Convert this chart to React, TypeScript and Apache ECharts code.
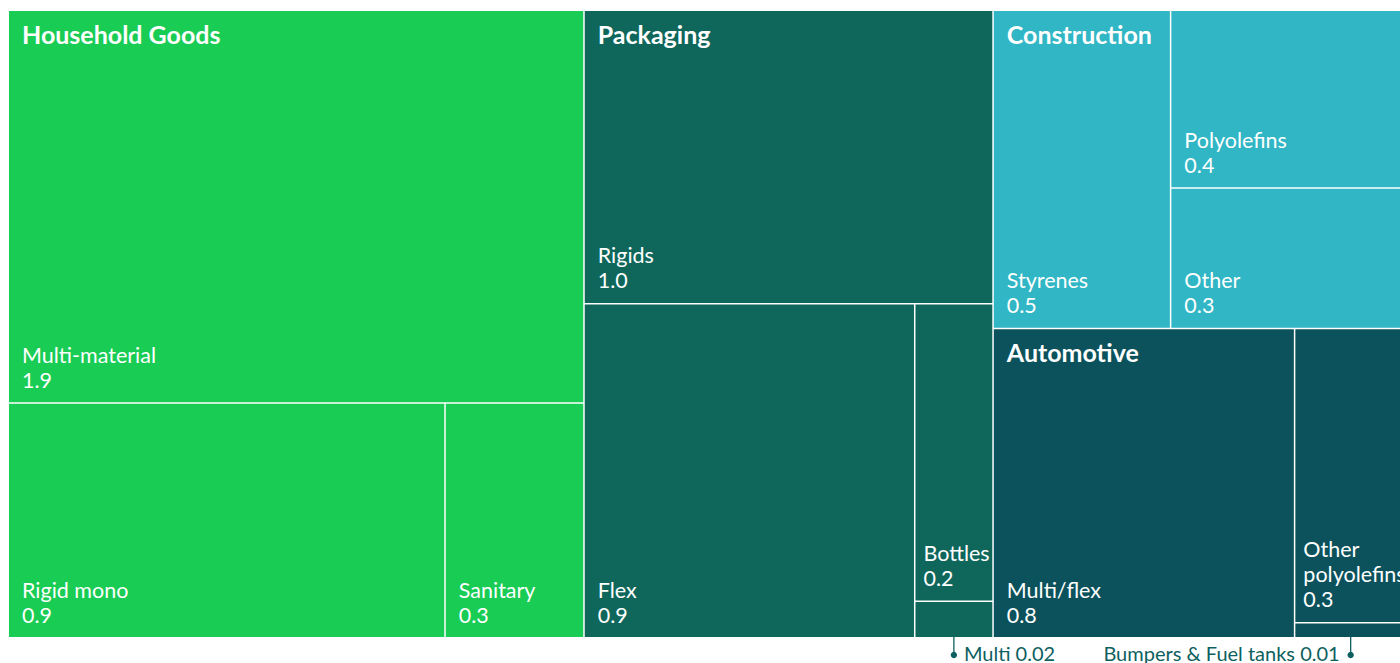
import React, { useEffect, useRef } from "react";
import * as echarts from "echarts";

// ---- data ----
const groupNames = ["Household Goods", "Packaging", "Construction", "Automotive"];
const groupColors = ["#18CC54", "#0F675C", "#30B6C4", "#0C525C"];

const householdNames = ["Multi-material", "Rigid mono", "Sanitary"];
const householdValues = [1.94, 0.88, 0.28];

const packagingNames = ["Rigids", "Flex", "Bottles", "Multi"];
const packagingValues = [1.03, 0.948, 0.2, 0.0245];

const constructionNames = ["Styrenes", "Polyolefins", "Other"];
const constructionValues = [0.485, 0.36, 0.285];

const automotiveNames = ["Multi/flex", "Other polyolefins", "Bumpers & Fuel tanks"];
const automotiveValues = [0.8, 0.283, 0.0145];

// leaves labelled outside the map, and on which side of the dot their text sits
const annotatedNames = ["Multi", "Bumpers & Fuel tanks"];
const annotatedSides = ["right", "left"];
// narrow cells get a smaller inner padding; some names wrap onto two lines
const narrowNames = ["Bottles", "Other polyolefins"];
const wrappedNames = ["Other polyolefins"];

const FONT = "Lato, 'Noto Sans', sans-serif";
const ANN_COLOR = "#0E5F60";

const groups = [
  { names: householdNames, values: householdValues },
  { names: packagingNames, values: packagingValues },
  { names: constructionNames, values: constructionValues },
  { names: automotiveNames, values: automotiveValues },
];

const fmt = (v: number) => (v < 0.1 ? v.toFixed(2) : v.toFixed(1));

function valueOf(name: string): number {
  for (const g of groups) {
    const i = g.names.indexOf(name);
    if (i >= 0) return g.values[i];
  }
  return 0;
}

function leafText(p: any) {
  const name = wrappedNames.includes(p.name) ? p.name.replace(" ", "\n") : p.name;
  return `${name}\n${fmt(p.value)}`;
}

function buildData(overlay: boolean) {
  return groups.map((g, gi) => ({
    name: groupNames[gi],
    itemStyle: { color: overlay ? "transparent" : groupColors[gi] },
    children: g.names.map((n, i) => {
      const narrow = narrowNames.includes(n);
      const hidden = annotatedNames.includes(n);
      let label: any;
      if (overlay) {
        label =
          i === 0
            ? {
                show: true,
                position: "insideTopLeft",
                formatter: groupNames[gi],
                fontWeight: "bold",
                fontSize: 25,
                lineHeight: 28,
                padding: [9, 0, 0, 13],
              }
            : { show: false };
      } else {
        label = hidden
          ? { show: false }
          : {
              show: true,
              padding: narrow ? [0, 0, 10, 8] : [0, 0, 10, 13],
            };
      }
      return {
        name: n,
        value: g.values[i],
        itemStyle: { color: overlay ? "transparent" : groupColors[gi] },
        label,
      };
    }),
  }));
}

function seriesBase(overlay: boolean) {
  const border = overlay ? "transparent" : "#ffffff";
  return {
    type: "treemap",
    left: 9,
    top: 11,
    width: 1397,
    height: 626,
    roam: false,
    nodeClick: false,
    silent: overlay,
    breadcrumb: { show: false },
    squareRatio: 0.5,
    sort: "desc",
    visibleMin: 0,
    animation: false,
    upperLabel: { show: false },
    emphasis: { disabled: true },
    label: {
      show: true,
      position: overlay ? "insideTopLeft" : "insideBottomLeft",
      distance: 0,
      color: "#ffffff",
      fontFamily: FONT,
      fontSize: 21.5,
      lineHeight: 25,
      overflow: "none",
      formatter: leafText,
    },
    itemStyle: { borderWidth: 0, gapWidth: 1.5, borderColor: border },
    levels: [
      { itemStyle: { borderWidth: 0, gapWidth: 1.5, borderColor: border } },
      { itemStyle: { borderWidth: 0, gapWidth: 1.5, borderColor: border } },
      { itemStyle: { borderWidth: 0, gapWidth: 0, borderColor: border } },
    ],
    data: buildData(overlay),
  };
}

// absolute rectangles of leaves
function leafRects(chart: any, names: string[]) {
  const series = chart.getModel().getSeriesByIndex(0);
  const tree = series.getData().tree;
  const li = series.layoutInfo || { x: 0, y: 0 };
  const out: Record<string, { x: number; y: number; w: number; h: number }> = {};
  tree.root.eachNode((node: any) => {
    if (!names.includes(node.name) || (node.children && node.children.length)) return;
    let x = 0;
    let y = 0;
    let n = node;
    while (n) {
      const l = n.getLayout();
      if (l) {
        x += l.x || 0;
        y += l.y || 0;
      }
      n = n.parentNode;
    }
    const l = node.getLayout();
    out[node.name] = { x: x + (li.x || 0), y: y + (li.y || 0), w: l.width, h: l.height };
  });
  return out;
}

function buildAnnotations(rects: Record<string, { x: number; y: number; w: number; h: number }>) {
  const els: any[] = [];
  annotatedNames.forEach((name, i) => {
    const r = rects[name];
    if (!r) return;
    const cx = r.x + r.w / 2;
    const by = r.y + r.h;
    const dotY = by + 18;
    const right = annotatedSides[i] === "right";
    els.push({
      type: "line",
      silent: true,
      shape: { x1: cx, y1: by, x2: cx, y2: dotY },
      style: { stroke: ANN_COLOR, lineWidth: 1.3 },
    });
    els.push({
      type: "circle",
      silent: true,
      shape: { cx, cy: dotY, r: 3.2 },
      style: { fill: ANN_COLOR },
    });
    els.push({
      type: "text",
      silent: true,
      x: right ? cx + 10 : cx - 11,
      y: dotY - 2.5,
      style: {
        text: `${name} ${fmt(valueOf(name))}`,
        fill: ANN_COLOR,
        fontFamily: FONT,
        fontSize: 20,
        lineHeight: 15,
        align: right ? "left" : "right",
        verticalAlign: "middle",
      },
    });
  });
  return els;
}

export default function App() {
  const ref = useRef<HTMLDivElement>(null);
  useEffect(() => {
    if (!ref.current) return;
    const chart = echarts.init(ref.current, null, { renderer: "svg" });
    chart.setOption({
      animation: false,
      backgroundColor: "#ffffff",
      series: [seriesBase(false), seriesBase(true)],
    });
    try {
      const rects = leafRects(chart, annotatedNames);
      chart.setOption({ graphic: buildAnnotations(rects) });
    } catch (e) {
      console.error(e);
    }
    return () => chart.dispose();
  }, []);
  return (
    <div
      ref={ref}
      style={{ position: "fixed", left: 0, top: 0, width: 1400, height: 663 }}
    />
  );
}
